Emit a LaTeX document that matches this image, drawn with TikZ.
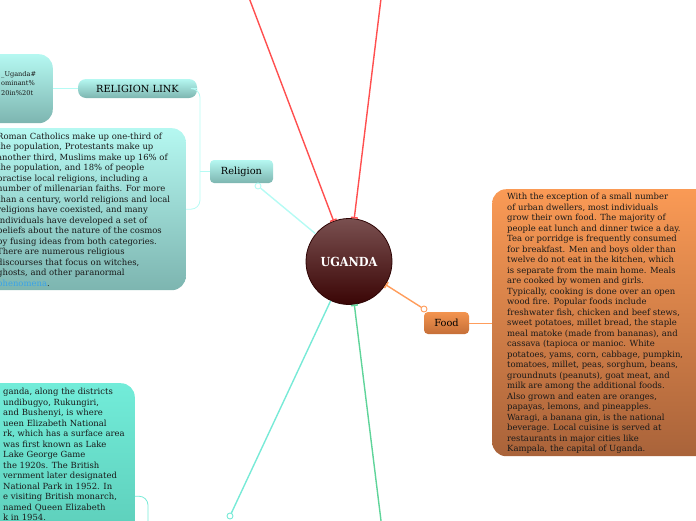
\documentclass[tikz,border=0pt]{standalone}
\usepackage{fontspec}
\setmainfont{DejaVu Serif}
\newfontfamily\ugfont{DejaVu Serif Condensed}
\usetikzlibrary{arrows.meta}
\definecolor{relTop}{HTML}{B5F8F1}
\definecolor{relBot}{HTML}{7DB5B0}
\definecolor{foodTop}{HTML}{FA9A55}
\definecolor{foodBot}{HTML}{A9633A}
\definecolor{foodNTop}{HTML}{F3944F}
\definecolor{foodNBot}{HTML}{C66F38}
\definecolor{botTop}{HTML}{72ECD9}
\definecolor{botBot}{HTML}{53C0AB}
\definecolor{ugTop}{HTML}{7A5050}
\definecolor{ugBot}{HTML}{3A0505}
\definecolor{ugLine}{HTML}{2E0505}
\definecolor{redL}{HTML}{FF4F4F}
\definecolor{cyanL}{HTML}{B5FBF4}
\definecolor{foodL}{HTML}{FF9D5C}
\definecolor{tealL}{HTML}{78EAD7}
\definecolor{greenL}{HTML}{5FD49A}
\definecolor{linkC}{HTML}{3BA3E8}
\begin{document}
\begin{tikzpicture}[x=1pt,y=-1pt,
  bigbox/.style={draw=none,rounded corners=14pt,inner sep=0pt},
  topic/.style={rounded corners=4pt,inner sep=0pt,font=\fontsize{9.8}{11}\selectfont,text=black},
  body/.style={inner sep=0pt,align=left,font=\fontsize{8.45}{10.5}\selectfont,text=black!90},
  conn/.style={line width=1.4pt},
  brk/.style={line width=0.8pt,rounded corners=9pt},
  endmark/.style={circle,draw,line width=0.9pt,fill=white,inner sep=0pt,minimum size=6pt},
  bartip/.style={-{Bar[width=7pt,line width=1.5pt]}}
]
\useasboundingbox (0,0) rectangle (696,520);
\clip (0,0) rectangle (696,520);

% central node
\node[circle,minimum size=86pt,inner sep=0pt,draw=ugLine,line width=0.8pt,top color=ugTop,bottom color=ugBot,text=white,font=\ugfont\bfseries\fontsize{12.5}{14}\selectfont] (ug) at (349,261.5) {UGANDA};

% off-canvas ends
\coordinate (r1) at (240,-26);
\coordinate (r2) at (384,-26);
\coordinate (g1) at (384,545);

% boxes
\node[bigbox,top color=relTop,bottom color=relBot,minimum width=120pt,minimum height=69pt,anchor=north east] (urlbox) at (53,54) {};
\node[bigbox,top color=relTop,bottom color=relBot,minimum width=230pt,minimum height=162pt,anchor=north east] (relbox) at (186,128) {};
\node[bigbox,top color=botTop,bottom color=botBot,minimum width=220pt,minimum height=226pt,anchor=north east] (botbox) at (135,383) {};
\node[bigbox,top color=foodTop,bottom color=foodBot,minimum width=230pt,minimum height=267pt,anchor=north west] (foodbox) at (492,189) {};

% topic nodes
\node[topic,top color=relTop,bottom color=relBot,minimum width=63pt,minimum height=23pt] (religion) at (241.5,171.5) {Religion};
\node[topic,rounded corners=8pt,top color=relTop,bottom color=relBot,minimum width=119pt,minimum height=19pt] (link) at (137.5,88.5) {RELIGION LINK};
\node[topic,top color=foodNTop,bottom color=foodNBot,minimum width=45pt,minimum height=22pt] (food) at (446.5,323) {Food};

% markers
\node[endmark,draw=cyanL] (mrel) at (258,186) {};
\node[endmark,draw=foodL] (mfood) at (424,309) {};
\node[endmark,draw=tealL] (mbot) at (230,516) {};

% texts
\node[inner sep=0pt,align=left,anchor=north west,font=\fontsize{6.6}{9.5}\selectfont,text=black!90] (urltext) at (1,71) {\_Uganda\#\\ominant\%\\20in\%20t};

\node[body,anchor=north west] (reltext) at (-3,132.5) {Roman Catholics make up one-third of\\
the population, Protestants make up\\
another third, Muslims make up 16\% of\\
the population, and 18\% of people\\
practise local religions, including a\\
number of millenarian faiths. For more\\
than a century, world religions and local\\
religions have coexisted, and many\\
individuals have developed a set of\\
beliefs about the nature of the cosmos\\
by fusing ideas from both categories.\\
There are numerous religious\\
discourses that focus on witches,\\
ghosts, and other paranormal\\
\textcolor{linkC}{phenomena}.};

\node[body,anchor=north west] (bottext) at (3,388) {ganda, along the districts\\
undibugyo, Rukungiri,\\
and Bushenyi, is where\\
ueen Elizabeth National\\
rk, which has a surface area\\
was first known as Lake\\
Lake George Game\\
the 1920s. The British\\
vernment later designated\\
National Park in 1952. In\\
e visiting British monarch,\\
named Queen Elizabeth\\
k in 1954.};

\node[body,anchor=north west] (foodtext) at (507,193) {With the exception of a small number\\
of urban dwellers, most individuals\\
grow their own food. The majority of\\
people eat lunch and dinner twice a day.\\
Tea or porridge is frequently consumed\\
for breakfast. Men and boys older than\\
twelve do not eat in the kitchen, which\\
is separate from the main home. Meals\\
are cooked by women and girls.\\
Typically, cooking is done over an open\\
wood fire. Popular foods include\\
freshwater fish, chicken and beef stews,\\
sweet potatoes, millet bread, the staple\\
meal matoke (made from bananas), and\\
cassava (tapioca or manioc. White\\
potatoes, yams, corn, cabbage, pumpkin,\\
tomatoes, millet, peas, sorghum, beans,\\
groundnuts (peanuts), goat meat, and\\
milk are among the additional foods.\\
Also grown and eaten are oranges,\\
papayas, lemons, and pineapples.\\
Waragi, a banana gin, is the national\\
beverage. Local cuisine is served at\\
restaurants in major cities like\\
Kampala, the capital of Uganda.};

% connectors
\draw[conn,redL,bartip] (r1) -- (ug);
\draw[conn,redL,bartip] (r2) -- (ug);
\draw[conn,greenL,bartip] (g1) -- (ug);
\draw[conn,cyanL] (mrel) -- (ug);
\draw[conn,foodL,bartip] (mfood) -- (ug);
\draw[conn,tealL] (mbot) -- (ug);

\coordinate (rj) at (200,171.5);
\draw[brk,cyanL] (link.east) -| (rj) |- (relbox.east);
\draw[brk,cyanL] (rj) -- (religion.west);
\draw[brk,cyanL] (link.west) -- (urlbox.east |- link.west);
\draw[brk,foodL] (food.east) -- (foodbox.west |- food.east);
\coordinate (bj) at (148,540);
\draw[brk,tealL] (botbox.east) -| (bj);
\end{tikzpicture}
\end{document}
